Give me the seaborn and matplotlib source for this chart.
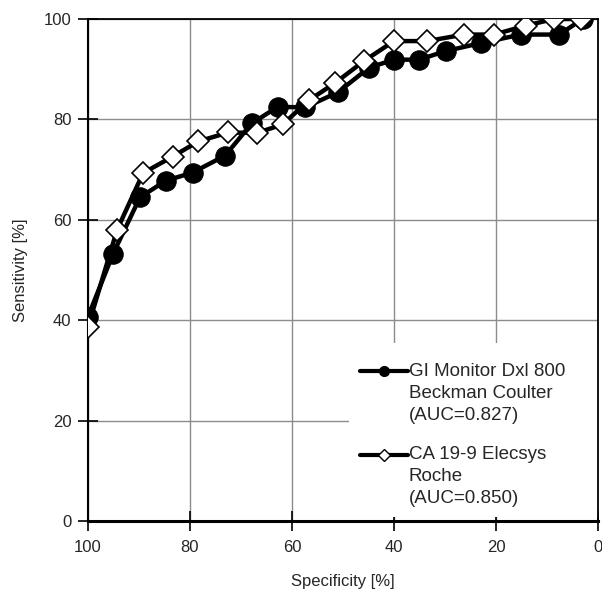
import matplotlib
matplotlib.use("Agg")
import matplotlib.pyplot as plt
import seaborn as sns
import pandas as pd
import numpy as np
from matplotlib.lines import Line2D
from matplotlib.patches import Rectangle
from matplotlib.legend_handler import HandlerLine2D

sns.set_theme(style="white")
plt.rcParams['font.family'] = ['Liberation Sans', 'DejaVu Sans']

# Data
gi_spec = [100, 95.1, 89.8, 84.7, 79.5, 73.1, 67.9, 62.8, 57.4, 51.0, 44.9, 40.0, 35.1, 29.9, 23.0, 15.1, 7.6, 3.0]
gi_sens = [40.7, 53.2, 64.5, 67.8, 69.4, 72.8, 79.2, 82.5, 82.4, 85.4, 90.3, 91.9, 91.9, 93.6, 95.2, 96.9, 96.9, 100.0]
ca_spec = [100, 94.3, 89.2, 83.4, 78.4, 72.5, 66.9, 61.8, 56.7, 51.5, 45.8, 40.0, 33.5, 26.3, 20.4, 14.1, 8.6, 3.3]
ca_sens = [38.7, 58.0, 69.3, 72.6, 75.6, 77.4, 77.3, 79.0, 83.8, 87.3, 91.7, 95.6, 95.6, 96.9, 96.9, 98.7, 100.0, 100.0]
labels = ["GI Monitor Dxl 800\nBeckman Coulter\n(AUC=0.827)",
          "CA 19-9 Elecsys\nRoche\n(AUC=0.850)"]
x_ticks = [100, 80, 60, 40, 20, 0]
y_ticks = [0, 20, 40, 60, 80, 100]

df_gi = pd.DataFrame({"Specificity": gi_spec, "Sensitivity": gi_sens})
df_ca = pd.DataFrame({"Specificity": ca_spec, "Sensitivity": ca_sens})

fig = plt.figure(figsize=(6.02, 5.96), dpi=100)
ax = fig.add_axes([88/602, 1-521/596, (598-88)/602, (521-19)/596])

sns.lineplot(data=df_gi, x="Specificity", y="Sensitivity", sort=False, estimator=None,
             ax=ax, color="black", linewidth=3.2, marker="o", markersize=14,
             markerfacecolor="black", markeredgecolor="black", zorder=3)
sns.lineplot(data=df_ca, x="Specificity", y="Sensitivity", sort=False, estimator=None,
             ax=ax, color="black", linewidth=3.2, marker="D", markersize=11,
             markerfacecolor="white", markeredgecolor="black", markeredgewidth=1.2, zorder=4)

ax.set_xlim(100, 0)
ax.set_ylim(0, 100)
ax.set_xticks(x_ticks)
ax.set_yticks(y_ticks)
ax.set_xticklabels([str(t) for t in x_ticks], fontsize=12)
ax.set_yticklabels([str(t) for t in y_ticks], fontsize=12)
ax.grid(True, color="#8c8c8c", linewidth=1.0)
ax.set_axisbelow(True)
ax.tick_params(axis="both", direction="inout", length=14, width=1.2, color="black",
               bottom=True, left=True)
ax.tick_params(axis="x", pad=6.5)
ax.tick_params(axis="y", pad=5)
for side in ["top", "right"]:
    ax.spines[side].set_color("black")
    ax.spines[side].set_linewidth(1.3)
ax.spines["left"].set_color("black")
ax.spines["left"].set_linewidth(1.5)
ax.spines["bottom"].set_color("black")
ax.spines["bottom"].set_linewidth(2.2)
for sp in ax.spines.values():
    sp.set_clip_on(False)
ax.set_xlabel("Specificity [%]", fontsize=12, labelpad=14)
ax.set_ylabel("Sensitivity [%]", fontsize=12, labelpad=11)

# white area behind the legend (covers grid)
ax.add_patch(Rectangle(((349-88)/510, (521-517)/502), 1 - (349-88)/510,
                       (517-343)/502, transform=ax.transAxes,
                       facecolor="white", edgecolor="none", zorder=1))


class TopHandler(HandlerLine2D):
    def __init__(self, off, **kw):
        super().__init__(**kw)
        self.off = off

    def create_artists(self, legend, orig_handle, xdescent, ydescent, width,
                       height, fontsize, trans):
        arts = super().create_artists(legend, orig_handle, xdescent, ydescent,
                                      width, height, fontsize, trans)
        for a in arts:
            a.set_ydata(np.asarray(a.get_ydata(), dtype=float) + self.off)
        return arts


h1 = Line2D([], [], color="black", linewidth=3, marker="o", markersize=7,
            markerfacecolor="black", markeredgecolor="black")
h2 = Line2D([], [], color="black", linewidth=3, marker="D", markersize=6,
            markerfacecolor="white", markeredgecolor="black")
leg = ax.legend([h1, h2], labels, loc="upper left",
                bbox_to_anchor=((360-88)/510, (521-363)/502),
                frameon=False, fontsize=13.5, handlelength=2.55, handletextpad=0.05,
                labelspacing=1.22, borderpad=0.0, borderaxespad=0.0,
                handler_map={h1: TopHandler(16), h2: TopHandler(16)})
for t in leg.get_texts():
    t.set_linespacing(1.37)
leg.set_zorder(10)

fig.savefig("out.png", dpi=100)
